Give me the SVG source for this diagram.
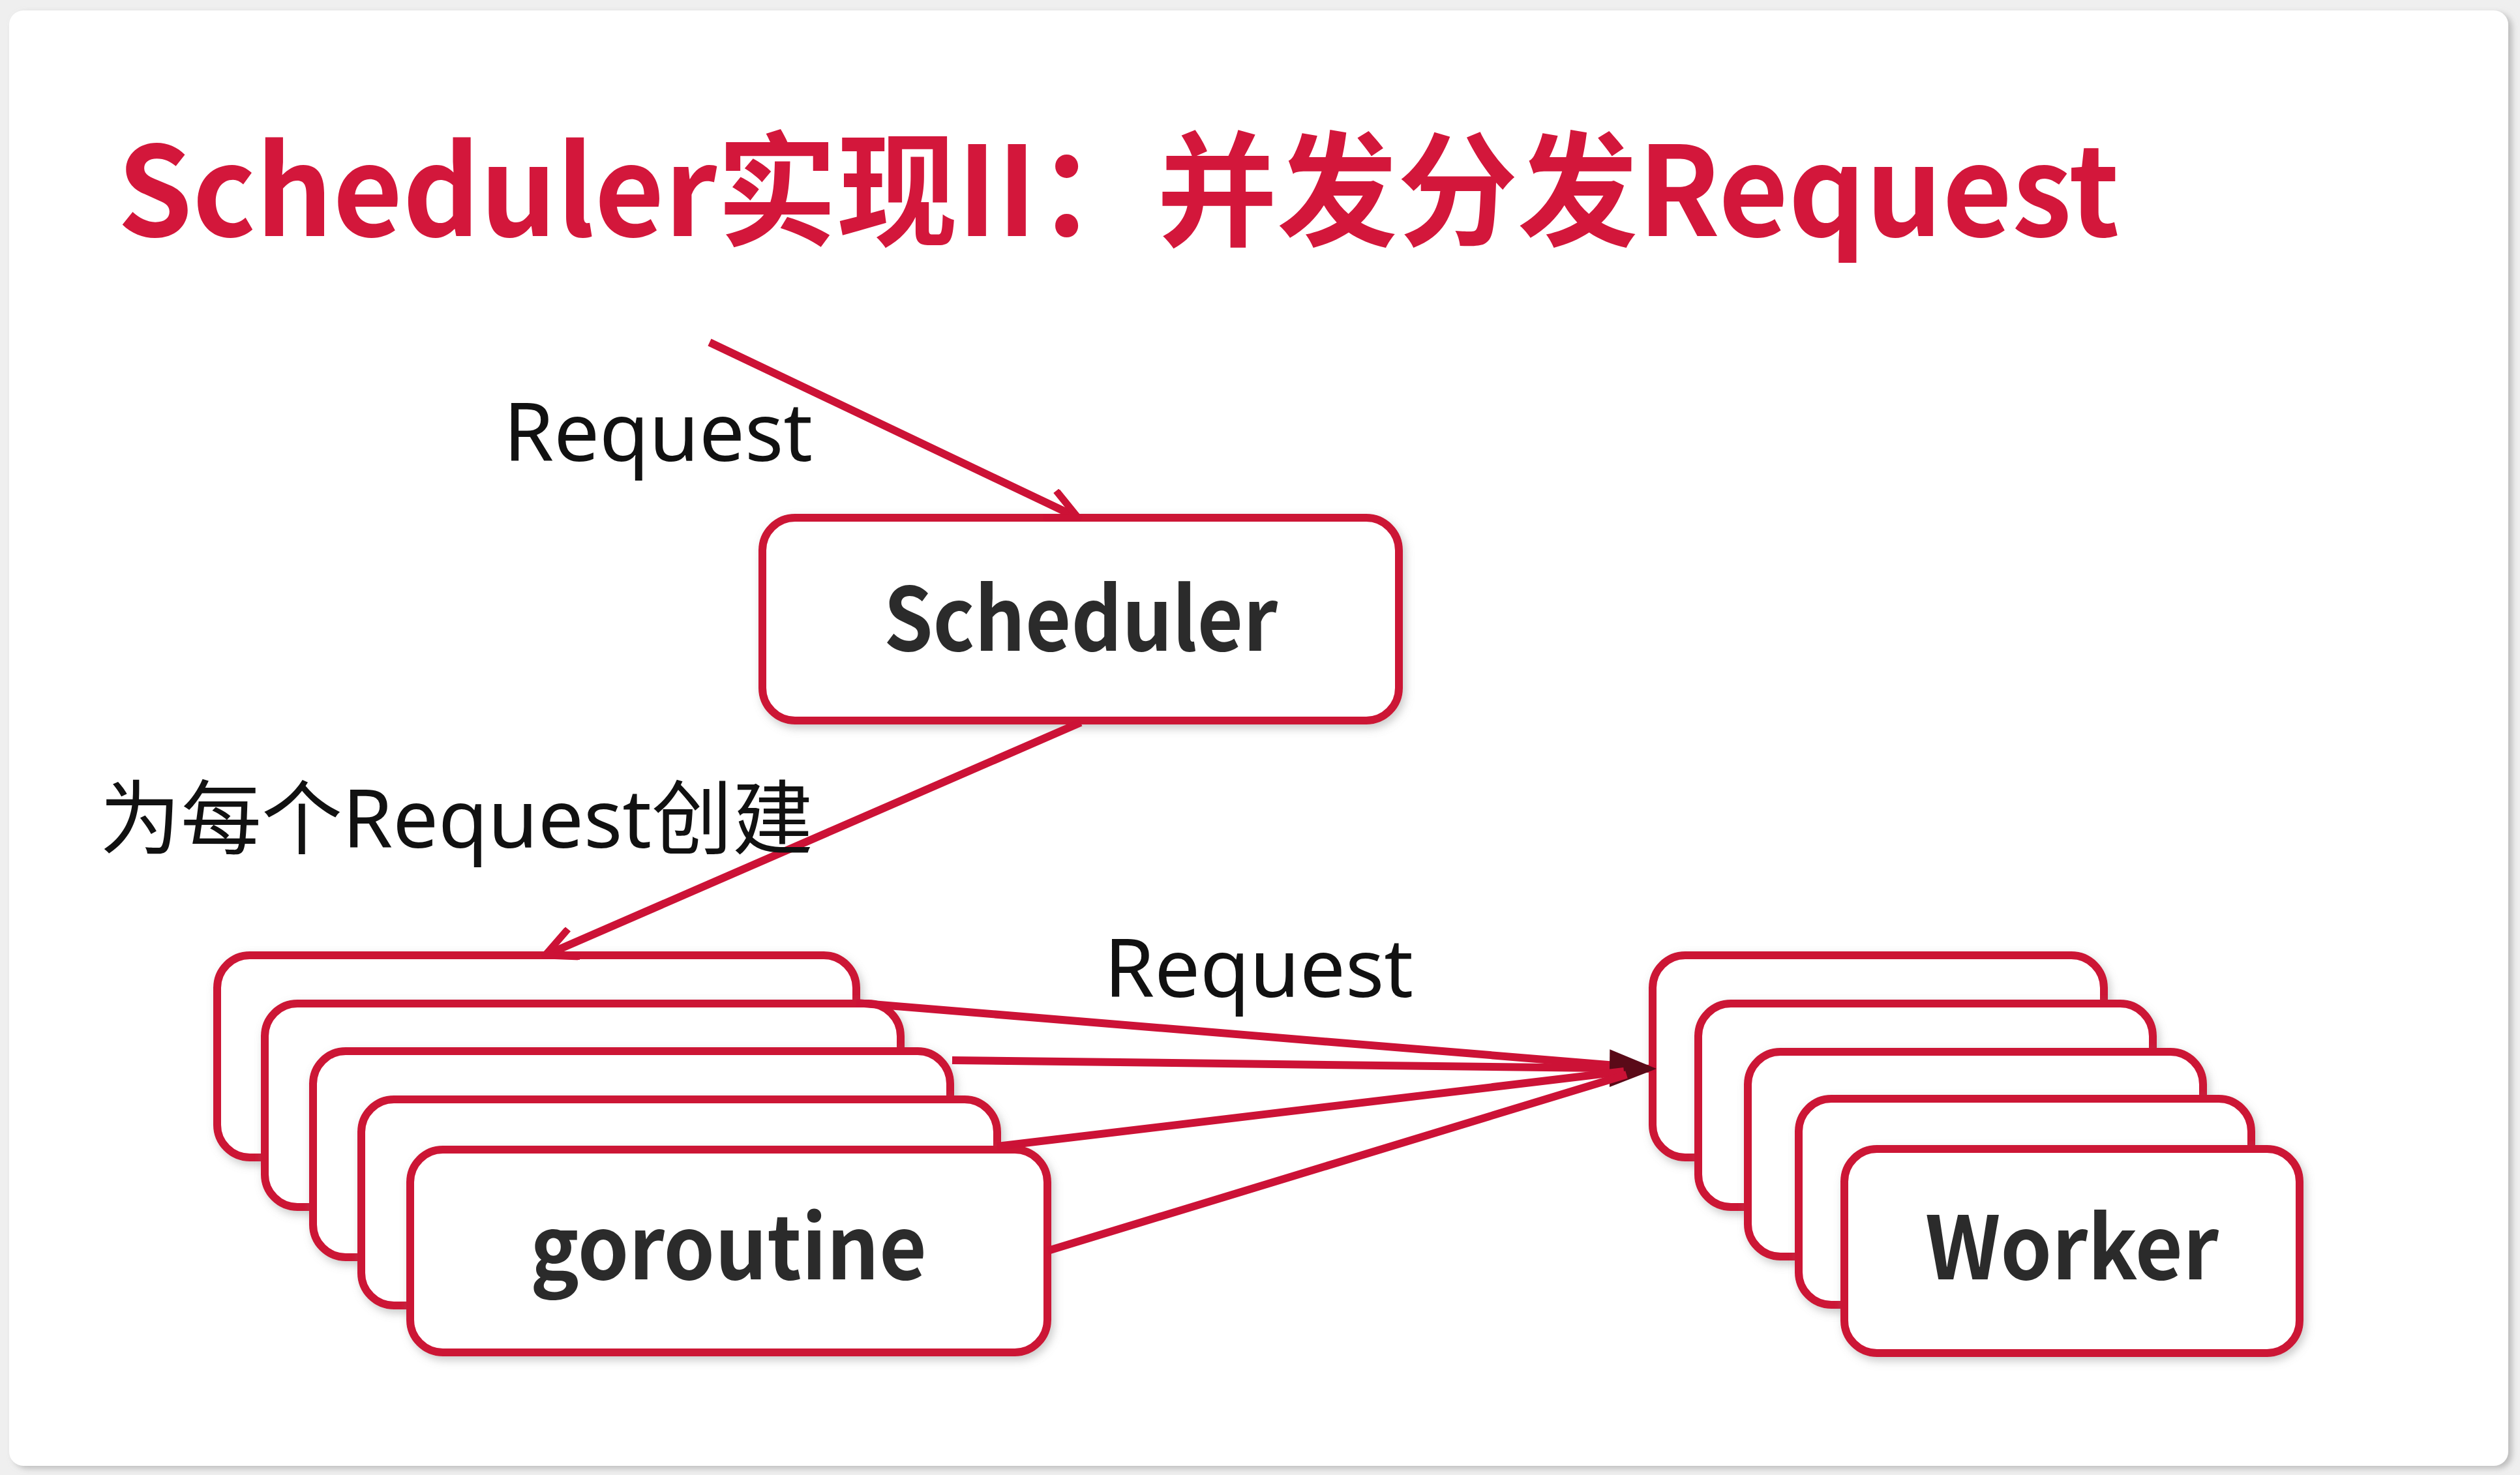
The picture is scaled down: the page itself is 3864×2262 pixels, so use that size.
<svg xmlns="http://www.w3.org/2000/svg" width="3864" height="2262" viewBox="0 0 3864 2262">
<defs>
<style>
.box{fill:#ffffff;stroke:#cc1236;stroke-width:12;filter:url(#sh)}
.bl{font-family:"Noto Sans CJK SC","Open Sans",sans-serif;font-weight:700;fill:#2b2b2b;text-anchor:middle}
.lb{font-family:"Noto Sans","Noto Sans CJK SC",sans-serif;font-weight:400;fill:#111111}
.ln{stroke:#cc1236;stroke-width:12;fill:none}
</style>
<filter id="sh" x="-10%" y="-10%" width="120%" height="130%">
<feDropShadow dx="4" dy="6" stdDeviation="7" flood-color="#8a8a8a" flood-opacity="0.45"/>
</filter>
<filter id="card" x="-2%" y="-2%" width="104%" height="104%">
<feDropShadow dx="6" dy="4" stdDeviation="5" flood-color="#9a9a9a" flood-opacity="0.6"/>
</filter>
<marker id="open" viewBox="0 0 60 54" refX="54" refY="27" markerWidth="60" markerHeight="54" markerUnits="userSpaceOnUse" orient="auto">
<path d="M6,4 L54,27 L6,50" fill="none" stroke="#cc1236" stroke-width="11" stroke-linejoin="miter"/>
</marker>
<marker id="solid" viewBox="0 0 72 58" refX="70" refY="29" markerWidth="72" markerHeight="58" markerUnits="userSpaceOnUse" orient="auto">
<path d="M0,0 L72,29 L0,58 Z" fill="#5a0a18"/>
</marker>
</defs>
<rect x="0" y="0" width="3864" height="2262" fill="#efefef"/>
<rect x="14" y="16" width="3832" height="2232" rx="22" fill="#ffffff" filter="url(#card)"/>

<text x="180" y="362" font-family="'Noto Sans CJK SC','Noto Sans',sans-serif" font-weight="700" font-size="190" fill="#d3173b" textLength="3070" lengthAdjust="spacingAndGlyphs">Scheduler实现II：并发分发Request</text>

<g id="scheduler">
<rect class="box" x="1169" y="794" width="976" height="311" rx="50"/>
<text class="bl" x="1657" y="998" font-size="134" textLength="604" lengthAdjust="spacingAndGlyphs">Scheduler</text>
</g>

<g id="goroutines">
<rect class="box" x="333" y="1465" width="980" height="310" rx="50"/>
<rect class="box" x="406" y="1539" width="975" height="312" rx="50"/>
<rect class="box" x="480" y="1612" width="977" height="316" rx="50"/>
<rect class="box" x="554" y="1686" width="975" height="316" rx="50"/>
<rect class="box" x="629" y="1763" width="977" height="311" rx="50"/>
<text class="bl" x="1117" y="1962" font-size="134" textLength="608" lengthAdjust="spacingAndGlyphs">goroutine</text>
</g>

<g id="workers">
<rect class="box" x="2534" y="1465" width="692" height="310" rx="50"/>
<rect class="box" x="2604" y="1539" width="697" height="312" rx="50"/>
<rect class="box" x="2680" y="1613" width="698" height="314" rx="50"/>
<rect class="box" x="2758" y="1685" width="694" height="316" rx="50"/>
<rect class="box" x="2828" y="1762" width="698" height="313" rx="50"/>
<text class="bl" x="3177" y="1962" font-size="134" textLength="450" lengthAdjust="spacingAndGlyphs">Worker</text>
</g>

<g id="connectors">
<line class="ln" x1="1088" y1="525" x2="1653" y2="794" marker-end="url(#open)"/>
<line class="ln" x1="1657" y1="1108" x2="836" y2="1465" marker-end="url(#open)"/>
<line class="ln" x1="1313" y1="1538" x2="2490" y2="1635"/>
<line class="ln" x1="1460" y1="1626" x2="2538" y2="1639" marker-end="url(#solid)"/>
<line class="ln" x1="1529" y1="1758" x2="2490" y2="1643"/>
<line class="ln" x1="1607" y1="1918" x2="2494" y2="1648"/>
</g>

<g id="labels">
<text class="lb" x="772" y="707" font-size="124">Request</text>
<text class="lb" x="153" y="1300" font-size="124">为每个Request创建</text>
<text class="lb" x="1693" y="1529" font-size="124">Request</text>
</g>
</svg>
